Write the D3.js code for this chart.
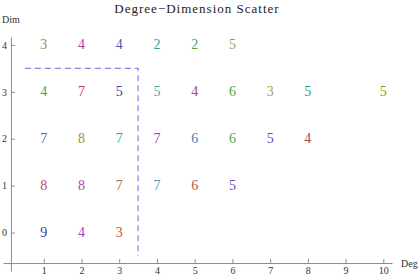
<!DOCTYPE html>
<html>
<head>
<meta charset="utf-8">
<script src="https://cdn.jsdelivr.net/npm/d3@7"></script>
<style>
  body { margin: 0; background: #fff; }
  svg text { font-family: "Liberation Serif", "DejaVu Serif", serif; }
</style>
</head>
<body>
<svg width="419" height="279"></svg>
<script>
// degree (x), dimension (y), count shown as the label
var degs   = [1, 2, 3, 4, 5, 6,   1, 2, 3, 4, 5, 6, 7, 8, 10,   1, 2, 3, 4, 5, 6, 7, 8,   1, 2, 3, 4, 5, 6,   1, 2, 3];
var dims   = [4, 4, 4, 4, 4, 4,   3, 3, 3, 3, 3, 3, 3, 3, 3,    2, 2, 2, 2, 2, 2, 2, 2,   1, 1, 1, 1, 1, 1,   0, 0, 0];
var counts = [3, 4, 4, 2, 2, 5,   4, 7, 5, 5, 4, 6, 3, 5, 5,    7, 8, 7, 7, 6, 6, 5, 4,   8, 8, 7, 7, 6, 5,   9, 4, 3];
var pointColors = [
    "#b08050", "#b040a0", "#4a5aa8", "#3a9aa8", "#5aa040", "#a0a040",
    "#40a868", "#c04058", "#4838a8", "#38a8b0", "#b04080", "#48a840", "#b0a040", "#289880", "#70a030",
    "#4868b0", "#a09040", "#40a860", "#9048b0", "#4880b0", "#48a848", "#7040b0", "#b04050",
    "#c04880", "#b048a0", "#a87040", "#4898b8", "#b05848", "#7048b8",
    "#4040a8", "#a048c0", "#c05840"
];
var xTicks = [1, 2, 3, 4, 5, 6, 7, 8, 9, 10];
var yTicks = [0, 1, 2, 3, 4];
// dashed boundary: (0.5,3.5) -> (3.5,3.5) -> (3.5,-0.5)
var boxPath = [[0.5, 3.5], [3.5, 3.5], [3.5, -0.5]];

var svg = d3.select("svg");

var x = d3.scaleLinear().domain([-0.08, 10.23]).range([3, 392]);
var y = d3.scaleLinear().domain([-0.82, 4.17]).range([271, 37]);

var axisY = y(-0.65),
    axisX = x(0.13);

var axisColor = "#8c8c8c";

// x axis
var gx = svg.append("g")
    .attr("transform", "translate(0," + axisY + ")")
    .call(d3.axisBottom(x).tickValues(xTicks).tickFormat(d3.format("d"))
        .tickSizeInner(-4).tickSizeOuter(0).tickPadding(4));
// y axis
var gy = svg.append("g")
    .attr("transform", "translate(" + axisX + ",0)")
    .call(d3.axisLeft(y).tickValues(yTicks).tickFormat(d3.format("d"))
        .tickSizeInner(-4).tickSizeOuter(0).tickPadding(4));

[gx, gy].forEach(function(g) {
    g.select(".domain").attr("stroke", axisColor);
    g.selectAll(".tick line").attr("stroke", axisColor);
    g.selectAll(".tick text")
        .attr("fill", "#333")
        .style("font-size", "10px")
        .style("font-family", "'Liberation Serif', serif");
});

// axis names
svg.append("text")
    .attr("x", 2).attr("y", 23)
    .attr("font-size", 10).attr("fill", "#333")
    .text("Dim");
svg.append("text")
    .attr("x", 401).attr("y", 267)
    .attr("font-size", 10).attr("fill", "#333")
    .text("Deg");

// title
svg.append("text")
    .attr("x", 197).attr("y", 13)
    .attr("text-anchor", "middle")
    .attr("font-size", 13)
    .attr("letter-spacing", 1)
    .attr("fill", "#222")
    .text("Degree\u2212Dimension Scatter");

// dashed boundary
svg.append("path")
    .attr("d", d3.line().x(function(d) { return x(d[0]); }).y(function(d) { return y(d[1]); })(boxPath))
    .attr("fill", "none")
    .attr("stroke", "#8a80d4")
    .attr("stroke-width", 1.2)
    .attr("stroke-dasharray", "6,4");

// labels
svg.append("g")
    .selectAll("text")
    .data(counts)
    .enter().append("text")
    .attr("x", function(d, i) { return x(degs[i]); })
    .attr("y", function(d, i) { return y(dims[i]); })
    .attr("text-anchor", "middle")
    .attr("dominant-baseline", "central")
    .attr("font-size", 14)
    .attr("fill", function(d, i) { return pointColors[i]; })
    .text(function(d) { return d; });
</script>
</body>
</html>
